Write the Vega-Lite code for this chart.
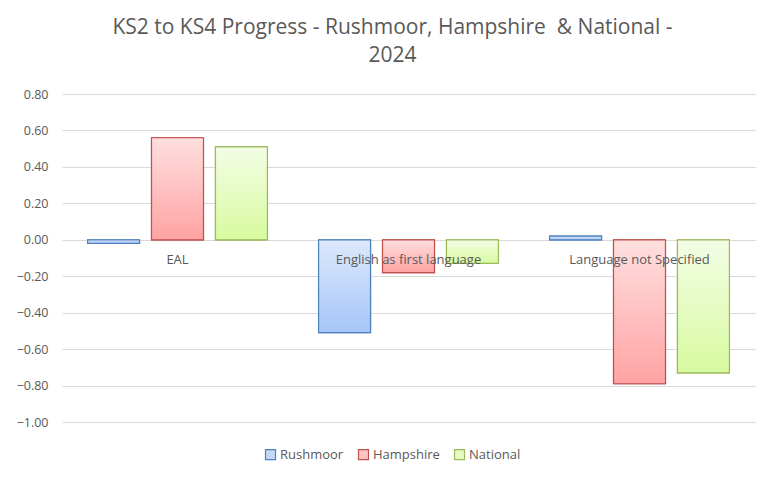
{
  "$schema": "https://vega.github.io/schema/vega-lite/v6.json",
  "width": 693,
  "height": 328,
  "autosize": {"type": "none"},
  "padding": {"left": 62, "top": 94, "right": 18, "bottom": 58},
  "background": "white",
  "title": {
    "text": ["KS2 to KS4 Progress - Rushmoor, Hampshire\u00a0 & National -", "2024"],
    "font": "Open Sans",
    "fontSize": 21,
    "fontWeight": "normal",
    "color": "#595959",
    "anchor": "middle",
    "dx": -16,
    "offset": 22,
    "lineHeight": 28
  },
  "config": {
    "view": {"stroke": null},
    "font": "Open Sans"
  },
  "datasets": {
    "bars": [
      {"cat": "EAL", "series": "Rushmoor", "value": -0.02},
      {"cat": "EAL", "series": "Hampshire", "value": 0.56},
      {"cat": "EAL", "series": "National", "value": 0.51},
      {"cat": "English as first language", "series": "Rushmoor", "value": -0.51},
      {"cat": "English as first language", "series": "Hampshire", "value": -0.18},
      {"cat": "English as first language", "series": "National", "value": -0.13},
      {"cat": "Language not Specified", "series": "Rushmoor", "value": 0.02},
      {"cat": "Language not Specified", "series": "Hampshire", "value": -0.79},
      {"cat": "Language not Specified", "series": "National", "value": -0.73}
    ],
    "cats": [
      {"cat": "EAL"},
      {"cat": "English as first language"},
      {"cat": "Language not Specified"}
    ]
  },
  "encoding": {
    "x": {
      "field": "cat",
      "type": "nominal",
      "sort": ["EAL", "English as first language", "Language not Specified"],
      "scale": {"paddingInner": 0, "paddingOuter": 0},
      "axis": null
    }
  },
  "layer": [
    {
      "data": {"name": "bars"},
      "mark": {"type": "bar", "strokeWidth": 1.2},
      "encoding": {
        "xOffset": {
          "field": "series",
          "type": "nominal",
          "sort": ["Rushmoor", "Hampshire", "National"],
          "scale": {"paddingInner": 0.1875, "paddingOuter": 0.4}
        },
        "y": {
          "field": "value",
          "type": "quantitative",
          "scale": {"domain": [-1, 0.8], "nice": false, "zero": true},
          "axis": {
            "title": null,
            "format": ".2f",
            "values": [-1, -0.8, -0.6, -0.4, -0.2, 0, 0.2, 0.4, 0.6, 0.8],
            "tickCount": 20,
            "labelOverlap": false,
            "domain": false,
            "ticks": false,
            "labelPadding": 14,
            "labelFontSize": 12.5,
            "labelColor": "#595959",
            "gridColor": "#D9D9D9",
            "gridWidth": 1
          }
        },
        "fill": {
          "field": "series",
          "type": "nominal",
          "sort": ["Rushmoor", "Hampshire", "National"],
          "scale": {
            "domain": ["Rushmoor", "Hampshire", "National"],
            "range": ["#C4D8F9", "#FFC2C2", "#E6FBC4"]
          },
          "legend": {
            "title": null,
            "orient": "none",
            "direction": "horizontal",
            "legendX": 202,
            "legendY": 354,
            "symbolType": "square",
            "symbolSize": 100,
            "symbolStrokeWidth": 1.2,
            "labelFontSize": 13,
            "labelColor": "#595959",
            "labelOffset": 3,
            "columnPadding": 12
          }
        },
        "stroke": {
          "field": "series",
          "type": "nominal",
          "sort": ["Rushmoor", "Hampshire", "National"],
          "scale": {
            "domain": ["Rushmoor", "Hampshire", "National"],
            "range": ["#4F81BD", "#C0504D", "#9BBB59"]
          },
          "legend": {
            "title": null,
            "orient": "none",
            "direction": "horizontal",
            "legendX": 202,
            "legendY": 354,
            "symbolType": "square",
            "symbolSize": 100,
            "symbolStrokeWidth": 1.2,
            "labelFontSize": 13,
            "labelColor": "#595959",
            "labelOffset": 3,
            "columnPadding": 12
          }
        }
      }
    },
    {
      "data": {"name": "bars"},
      "transform": [{"filter": "datum.series === 'Rushmoor'"}],
      "mark": {
        "type": "bar",
        "strokeWidth": 1.2,
        "stroke": "#4F81BD",
        "fill": {"gradient": "linear", "x1": 0, "y1": 0, "x2": 0, "y2": 1, "stops": [{"offset": 0, "color": "#DDE9FC"}, {"offset": 1, "color": "#A6C5F8"}]}
      },
      "encoding": {
        "xOffset": {"field": "series", "type": "nominal", "sort": ["Rushmoor", "Hampshire", "National"]},
        "y": {"field": "value", "type": "quantitative"}
      }
    },
    {
      "data": {"name": "bars"},
      "transform": [{"filter": "datum.series === 'Hampshire'"}],
      "mark": {
        "type": "bar",
        "strokeWidth": 1.2,
        "stroke": "#C0504D",
        "fill": {"gradient": "linear", "x1": 0, "y1": 0, "x2": 0, "y2": 1, "stops": [{"offset": 0, "color": "#FFDFDF"}, {"offset": 1, "color": "#FFA3A3"}]}
      },
      "encoding": {
        "xOffset": {"field": "series", "type": "nominal", "sort": ["Rushmoor", "Hampshire", "National"]},
        "y": {"field": "value", "type": "quantitative"}
      }
    },
    {
      "data": {"name": "bars"},
      "transform": [{"filter": "datum.series === 'National'"}],
      "mark": {
        "type": "bar",
        "strokeWidth": 1.2,
        "stroke": "#9BBB59",
        "fill": {"gradient": "linear", "x1": 0, "y1": 0, "x2": 0, "y2": 1, "stops": [{"offset": 0, "color": "#F3FDE6"}, {"offset": 1, "color": "#D8FA9F"}]}
      },
      "encoding": {
        "xOffset": {"field": "series", "type": "nominal", "sort": ["Rushmoor", "Hampshire", "National"]},
        "y": {"field": "value", "type": "quantitative"}
      }
    },
    {
      "data": {"name": "cats"},
      "mark": {"type": "text", "dy": 20, "fontSize": 13, "color": "#595959"},
      "encoding": {
        "y": {"datum": 0, "type": "quantitative"},
        "text": {"field": "cat"}
      }
    }
  ]
}
